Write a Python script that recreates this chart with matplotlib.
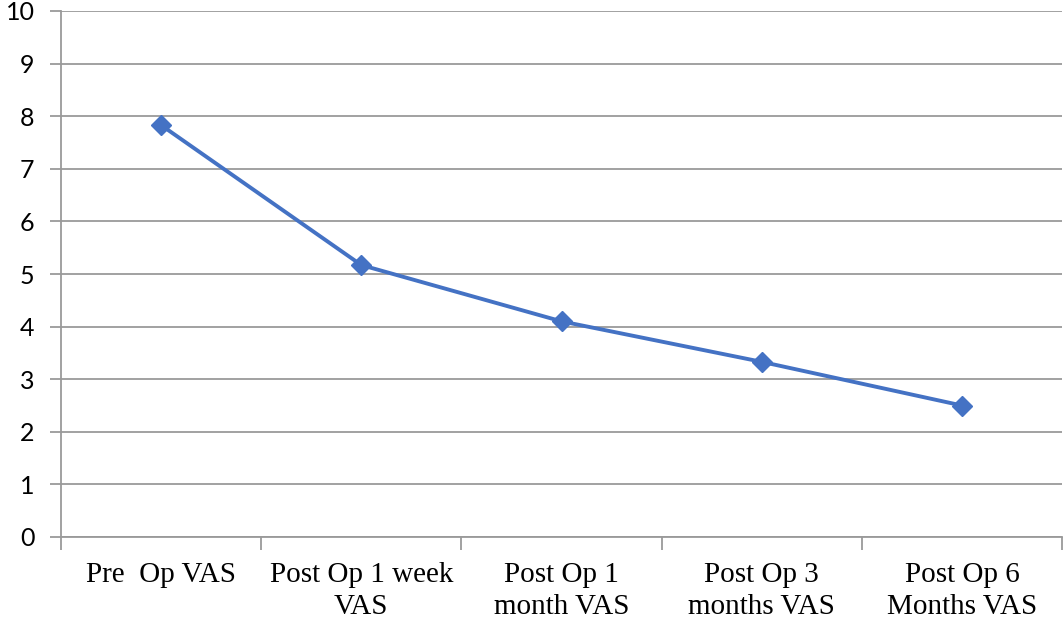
import numpy as np
import matplotlib
matplotlib.use("Agg")
import matplotlib.pyplot as plt

# VAS scores over follow-up
categories = ["Pre  Op VAS", "Post Op 1 week\nVAS", "Post Op 1\nmonth VAS",
              "Post Op 3\nmonths VAS", "Post Op 6\nMonths VAS"]
vas = [7.83, 5.17, 4.1, 3.33, 2.5]
yticks = list(range(0, 11))

fig = plt.figure(figsize=(10.63, 6.3), dpi=100)
ax = fig.add_axes([61 / 1063, 93 / 630, 1001 / 1063, 526 / 630])

x = np.arange(len(categories))
ax.plot(x, vas, color="#4472C4", linewidth=2.8, marker="D", markersize=10,
        markerfacecolor="#4472C4", markeredgecolor="#4472C4", zorder=3)

ax.set_xlim(-0.5, len(categories) - 0.5)
ax.set_ylim(0, 10)
ax.set_yticks(yticks)
ax.set_yticklabels([str(v) for v in yticks], fontsize=18, family="Lato")
ax.grid(axis="y", color="#9a9a9a", linewidth=1.3)
ax.set_axisbelow(True)

# category labels at centres, tick marks at boundaries
ax.set_xticks(x)
ax.set_xticklabels(categories, fontsize=21, family="Liberation Serif",
                   linespacing=1.32)
ax.set_xticks(np.arange(len(categories) + 1) - 0.5, minor=True)
ax.tick_params(axis="x", which="major", length=0, pad=18)
ax.tick_params(axis="x", which="minor", length=9, color="#9a9a9a", width=1.3)
ax.tick_params(axis="y", length=8, color="#9a9a9a", width=1.3, pad=11)

for s in ["top", "right"]:
    ax.spines[s].set_visible(False)
for s in ["left", "bottom"]:
    ax.spines[s].set_color("#9a9a9a")
    ax.spines[s].set_linewidth(1.3)

fig.savefig("out.png", dpi=100)
